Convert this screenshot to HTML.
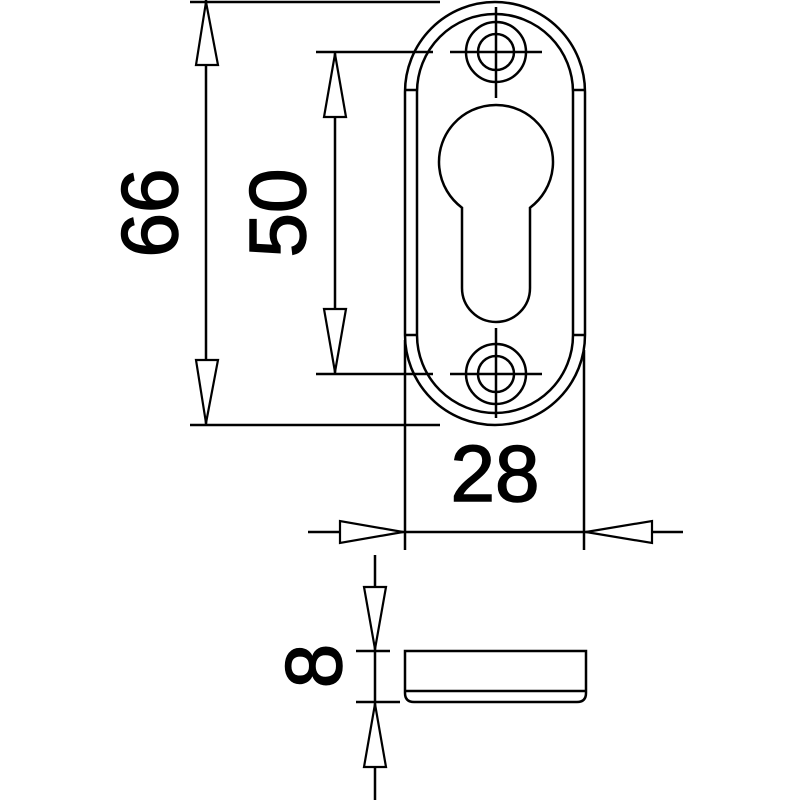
<!DOCTYPE html>
<html><head><style>html,body{margin:0;padding:0;background:#fff}svg{display:block}</style></head>
<body>
<svg width="800" height="800" viewBox="0 0 800 800" xmlns="http://www.w3.org/2000/svg">
<g fill="none" stroke="#000" stroke-width="2.5">
<path d="M405,92 A90,90 0 0 1 585,92 L585,335 A90,90 0 0 1 405,335 Z"/>
<path d="M417,92 A78,78 0 0 1 573,92 L573,335 A78,78 0 0 1 417,335 Z"/>
<line x1="405" y1="90" x2="417" y2="90"/><line x1="573" y1="90" x2="585" y2="90"/>
<line x1="405" y1="335" x2="417" y2="335"/><line x1="573" y1="335" x2="585" y2="335"/>
<circle cx="496" cy="52" r="30"/><circle cx="496" cy="52" r="18"/>
<circle cx="496" cy="374" r="30"/><circle cx="496" cy="374" r="18"/>
<line x1="450" y1="52" x2="542" y2="52"/><line x1="496" y1="7" x2="496" y2="98"/>
<line x1="450" y1="374" x2="542" y2="374"/><line x1="496" y1="328" x2="496" y2="418"/>
<path d="M462,207.7 A57,57 0 1 1 530,207.7 L530,288 A34,34 0 0 1 462,288 Z"/>
<line x1="190" y1="2" x2="440" y2="2"/><line x1="190" y1="425" x2="440" y2="425"/>
<line x1="206" y1="0" x2="206" y2="425"/>
<line x1="316" y1="52" x2="433" y2="52"/><line x1="316" y1="374" x2="433" y2="374"/>
<line x1="335" y1="52" x2="335" y2="374"/>
<line x1="405" y1="340" x2="405" y2="550"/><line x1="584" y1="350" x2="584" y2="550"/>
<line x1="308" y1="532" x2="683" y2="532"/>
<line x1="375" y1="555" x2="375" y2="800"/>
<line x1="356" y1="651" x2="390" y2="651"/><line x1="356" y1="702" x2="400" y2="702"/>
<path d="M405,651 L586,651 L586,693 Q586,702 577,702 L414,702 Q405,702 405,693 Z"/>
<line x1="405" y1="691" x2="586" y2="691"/>
</g>
<g fill="#fff" stroke="#000" stroke-width="2.2">
<polygon points="206,2 196,65 218,65"/><polygon points="206,423 196,360 218,360"/>
<polygon points="335,54 324,117 346,117"/><polygon points="335,372 324,309 346,309"/>
<polygon points="403,532 340,521 340,543"/><polygon points="586,532 652,521 652,543"/>
<polygon points="375,649 364,587 386,587"/><polygon points="375,704 364,767 386,767"/>
</g>
<g font-family="Liberation Sans, sans-serif" font-size="80" fill="#000" stroke="#000" stroke-width="1.5" text-anchor="middle">
<text transform="translate(177,213) rotate(-90)">66</text>
<text transform="translate(305,213) rotate(-90)">50</text>
<text x="495" y="501">28</text>
<text transform="translate(341,666) rotate(-90)">8</text>
</g>
</svg>
</body></html>
